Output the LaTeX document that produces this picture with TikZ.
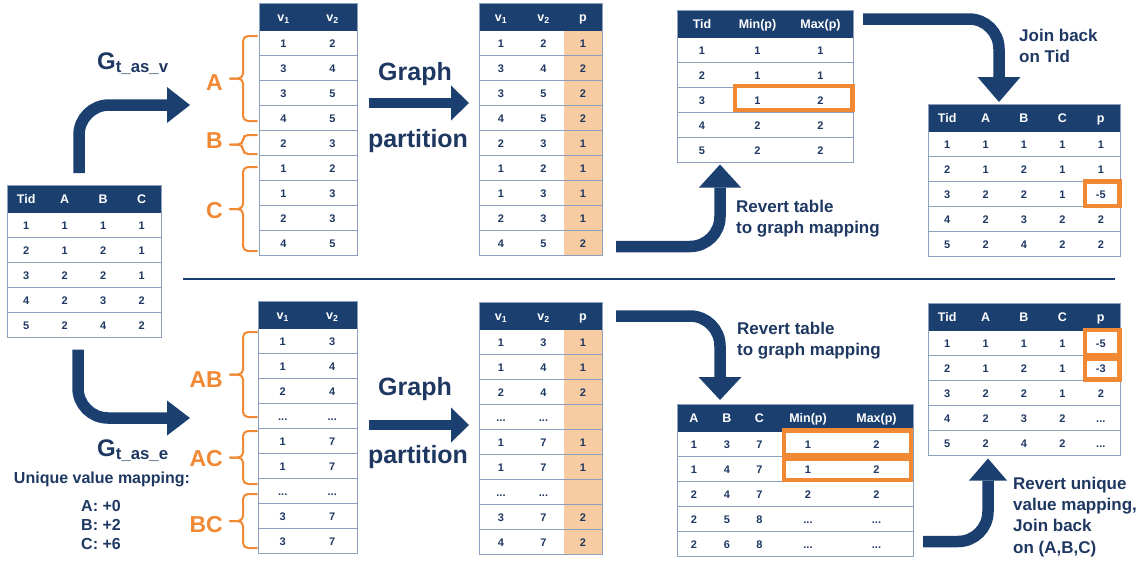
\documentclass[tikz,border=0pt]{standalone}
\usepackage{fontspec}
\setmainfont{Liberation Sans}
\usetikzlibrary{positioning}
\usetikzlibrary{matrix,arrows.meta}

\definecolor{navy}{RGB}{27,64,112}
\definecolor{ink}{RGB}{30,56,98}
\definecolor{rulec}{RGB}{140,160,190}
\definecolor{hlorange}{RGB}{240,136,52}
\definecolor{peach}{RGB}{248,204,162}

% row rules + outer frame of a table matrix: name, rows, cols
\newcommand\tabrules[3]{%
    \foreach \rw in {3,...,#2}
        \draw[rl] (#1-\rw-1.north west) -- (#1-\rw-#3.north east);
    \draw[rl] (#1.north west) rectangle (#1.south east);
}

\begin{document}
\begin{tikzpicture}[
    x=1pt, y=-1pt,
    tbl/.style={
        matrix of nodes,
        nodes in empty cells,
        anchor=north west,
        inner sep=0pt, outer sep=0pt,
        nodes={
            inner sep=0pt, outer sep=0pt,
            anchor=center,
            minimum height=25pt,
            text height=8pt, text depth=0pt,
            text=ink,
            font=\fontsize{11}{13}\selectfont\bfseries,
        },
        row 1/.style={nodes={
            fill=navy, text=white,
            minimum height=27.5pt, text height=9pt,
            font=\fontsize{12.5}{14}\selectfont\bfseries,
        }},
    },
    colw/.style 2 args={column #1/.style={nodes={minimum width=#2}}},
    pcol/.style={column #1/.append style={nodes={fill=peach}}},
    rl/.style={draw=rulec, line width=1pt},
    hl/.style={draw=hlorange, line width=4.5pt},
    brc/.style={draw=hlorange, line width=2pt, line cap=round, rounded corners=5pt},
    grp/.style={anchor=base east, inner sep=0pt, text=hlorange,
        font=\fontsize{23}{26}\selectfont\bfseries},
    glbl/.style={anchor=base west, inner sep=0pt, text=ink,
        font=\fontsize{24}{28}\selectfont\bfseries},
    note/.style={anchor=west, align=left, inner sep=0pt, text=ink,
        font=\fontsize{17}{21.2}\selectfont\bfseries},
    bigtxt/.style={anchor=base, inner sep=0pt, text=ink,
        font=\fontsize{25}{28}\selectfont\bfseries},
    arrhead/.style 2 args={-{Triangle[length=#1, width=#2, line width=0pt]}},
    bigarrow/.style={draw=navy, line width=11.5pt, rounded corners=30pt,
        arrhead={23pt}{42pt}},
]
    \useasboundingbox (0,0) rectangle (1145,563);

    % ~~~ source table ~~~~~~~~~~~~
    \matrix (src) [tbl, nodes={minimum width=38.5pt}] at (7,185) {
        Tid & A & B & C \\
        1 & 1 & 1 & 1 \\
        2 & 1 & 2 & 1 \\
        3 & 2 & 2 & 1 \\
        4 & 2 & 3 & 2 \\
        5 & 2 & 4 & 2 \\
    };
    \tabrules{src}{6}{4}

    % ~~~ upper half: tuples as vertices ~~~~~~~~~~~~
    \matrix (tv) [tbl, nodes={minimum width=49pt}] at (259,3) {
        v\textsubscript{1} & v\textsubscript{2} \\
        1 & 2 \\
        3 & 4 \\
        3 & 5 \\
        4 & 5 \\
        2 & 3 \\
        1 & 2 \\
        1 & 3 \\
        2 & 3 \\
        4 & 5 \\
    };
    \tabrules{tv}{10}{2}

    \matrix (tvp) [tbl, colw={1}{44pt}, colw={2}{41pt}, colw={3}{38pt}, pcol=3] at (479,3) {
        v\textsubscript{1} & v\textsubscript{2} & p \\
        1 & 2 & 1 \\
        3 & 4 & 2 \\
        3 & 5 & 2 \\
        4 & 5 & 2 \\
        2 & 3 & 1 \\
        1 & 2 & 1 \\
        1 & 3 & 1 \\
        2 & 3 & 1 \\
        4 & 5 & 2 \\
    };
    \tabrules{tvp}{10}{3}

    \matrix (tmm) [tbl, colw={1}{50pt}, colw={2}{61pt}, colw={3}{65pt}] at (677,10) {
        Tid & Min(p) & Max(p) \\
        1 & 1 & 1 \\
        2 & 1 & 1 \\
        3 & 1 & 2 \\
        4 & 2 & 2 \\
        5 & 2 & 2 \\
    };
    \tabrules{tmm}{6}{3}

    \matrix (tres) [tbl, nodes={minimum width=38.4pt}] at (928,104) {
        Tid & A & B & C & p \\
        1 & 1 & 1 & 1 & 1 \\
        2 & 1 & 2 & 1 & 1 \\
        3 & 2 & 2 & 1 & -5 \\
        4 & 2 & 3 & 2 & 2 \\
        5 & 2 & 4 & 2 & 2 \\
    };
    \tabrules{tres}{6}{5}

    % ~~~ lower half: tuples as edges ~~~~~~~~~~~~
    \matrix (ev) [tbl, nodes={minimum width=49.5pt}] at (258,301) {
        v\textsubscript{1} & v\textsubscript{2} \\
        1 & 3 \\
        1 & 4 \\
        2 & 4 \\
        ... & ... \\
        1 & 7 \\
        1 & 7 \\
        ... & ... \\
        3 & 7 \\
        3 & 7 \\
    };
    \tabrules{ev}{10}{2}

    \matrix (evp) [tbl, colw={1}{44pt}, colw={2}{41pt}, colw={3}{38pt}, pcol=3] at (479,302) {
        v\textsubscript{1} & v\textsubscript{2} & p \\
        1 & 3 & 1 \\
        1 & 4 & 1 \\
        2 & 4 & 2 \\
        ... & ... & \\
        1 & 7 & 1 \\
        1 & 7 & 1 \\
        ... & ... & \\
        3 & 7 & 2 \\
        4 & 7 & 2 \\
    };
    \tabrules{evp}{10}{3}

    \matrix (emm) [tbl, colw={1}{34pt}, colw={2}{32pt}, colw={3}{33pt},
                   colw={4}{64pt}, colw={5}{73pt}] at (677,404) {
        A & B & C & Min(p) & Max(p) \\
        1 & 3 & 7 & 1 & 2 \\
        1 & 4 & 7 & 1 & 2 \\
        2 & 4 & 7 & 2 & 2 \\
        2 & 5 & 8 & ... & ... \\
        2 & 6 & 8 & ... & ... \\
    };
    \tabrules{emm}{6}{5}

    \matrix (eres) [tbl, nodes={minimum width=38.4pt}] at (928,303) {
        Tid & A & B & C & p \\
        1 & 1 & 1 & 1 & -5 \\
        2 & 1 & 2 & 1 & -3 \\
        3 & 2 & 2 & 1 & 2 \\
        4 & 2 & 3 & 2 & ... \\
        5 & 2 & 4 & 2 & ... \\
    };
    \tabrules{eres}{6}{5}

    % ~~~ highlights ~~~~~~~~~~~~
    \draw[hl] ([xshift=8pt,yshift=1.5pt]tmm-4-2.north west) rectangle ([xshift=-0.5pt,yshift=2.5pt]tmm-4-3.south east);
    \draw[hl] ([xshift=3.5pt]tres-4-5.north west) rectangle ([xshift=-0.5pt,yshift=0.5pt]tres-4-5.south east);
    \draw[hl] ([xshift=8pt,yshift=1pt]emm-2-4.north west) rectangle ([xshift=-2pt,yshift=1.5pt]emm-2-5.south east);
    \draw[hl] ([xshift=8pt,yshift=-2.5pt]emm-3-4.north west) rectangle ([xshift=-2pt,yshift=1.5pt]emm-3-5.south east);
    \draw[hl] ([xshift=3.5pt,yshift=0.5pt]eres-2-5.north west) rectangle ([xshift=-0.5pt]eres-2-5.south east);
    \draw[hl] ([xshift=3.5pt,yshift=-3pt]eres-3-5.north west) rectangle ([xshift=-0.5pt,yshift=1pt]eres-3-5.south east);

    % ~~~ groups: braces top/bottom, then letters ~~~~~~~~~~~~
    \foreach \t/\b [evaluate=\t as \m using (\t+\b)/2] in
        {36/121, 135/154, 167/251, 332/417, 431/484, 494/548}{
        \draw[brc] (257,\t) -- (243,\t) -- (243,\m) -- (230,\m);
        \draw[brc] (257,\b) -- (243,\b) -- (243,\m) -- (230,\m);
    }
    \node[grp] (ga)  at (223,90)  {A};
    \node[grp] (gb)  at (223,148) {B};
    \node[grp] (gc)  at (223,218) {C};
    \node[grp] (gab) at (223,387) {AB};
    \node[grp] (gac) at (223,466) {AC};
    \node[grp] (gbc) at (223,532) {BC};

    % ~~~ labels ~~~~~~~~~~~~
    \node[glbl] (gtv) at (97,69)  {G\textsubscript{t\_as\_v}};
    \node[glbl] (gte) at (97,456) {G\textsubscript{t\_as\_e}};
    \node[anchor=base, inner sep=0pt, text=ink, font=\fontsize{16}{19}\selectfont\bfseries]
        (uvm) at (102,483) {Unique value mapping:};
    \node[align=center, inner sep=0pt, text=ink, font=\fontsize{16}{19}\selectfont\bfseries]
        (ofs) at (101,525) {A: +0\\B: +2\\C: +6};
    \node[bigtxt] (gp1) at (415,80)  {Graph};
    \node[bigtxt] (gp2) at (418,147) {partition};
    \node[bigtxt] (gp3) at (415,395) {Graph};
    \node[bigtxt] (gp4) at (418,463) {partition};
    \node[note] (n1) at (736,218.6) {Revert table\\to graph mapping};
    \node[note] (n2) at (1019,46.3) {Join back\\on Tid};
    \node[note] (n3) at (737,340.5) {Revert table\\to graph mapping};
    \node[note] (n4) at (1013,516.8) {Revert unique\\value mapping,\\Join back\\on (A,B,C)};

    % ~~~ block arrows ~~~~~~~~~~~~
    \coordinate (gvend) at (190,105);
    \coordinate (geend) at (190,418);
    \coordinate (gpa) at (418,103);
    \coordinate (gpb) at (418,425);
    \draw[bigarrow, arrhead={23pt}{36pt}] ([xshift=-5pt,yshift=12pt]src.north) |- (gvend);
    \draw[bigarrow, arrhead={23pt}{35pt}] ([xshift=-6pt,yshift=-12pt]src.south) |- (geend);
    \draw[bigarrow, line width=10pt, arrhead={18pt}{35pt}] ([xshift=12pt]tv.east |- gpa) -- ([xshift=-10pt]tvp.west |- gpa);
    \draw[bigarrow, line width=10pt, arrhead={18pt}{35pt}] ([xshift=12pt]ev.east |- gpb) -- ([xshift=-10pt]evp.west |- gpb);
    \draw[bigarrow] ([xshift=14pt,yshift=9pt]tvp.south east) -| ([xshift=43pt,yshift=-2pt]tmm.south west);
    \draw[bigarrow, arrhead={25pt}{43pt}] ([xshift=10pt,yshift=-9pt]tmm.north east) -| ([xshift=-25pt,yshift=2pt]tres.north);
    \draw[bigarrow, arrhead={23pt}{43pt}] ([xshift=14pt,yshift=-14pt]evp.north east) -| ([xshift=43pt,yshift=4pt]emm.north west);
    \draw[bigarrow, arrhead={22pt}{38pt}] ([xshift=10pt,yshift=15pt]emm.south east) -| ([xshift=60pt,yshift=-3pt]eres.south west);

    % ~~~ divider ~~~~~~~~~~~~
    \draw[navy, line width=2pt] (183,279) -- (1115,279);
\end{tikzpicture}
\end{document}
